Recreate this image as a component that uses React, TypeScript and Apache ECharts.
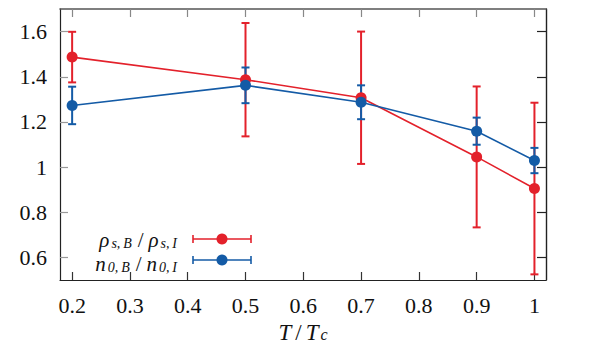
import React, { useEffect, useRef } from "react";
import * as echarts from "echarts";

const temps = [0.2, 0.5, 0.7, 0.9, 1.0];
const rhoVals = [1.487, 1.387, 1.307, 1.045, 0.905];
const rhoErr = [0.112, 0.251, 0.293, 0.312, 0.38];
const n0Vals = [1.273, 1.362, 1.287, 1.159, 1.029];
const n0Err = [0.083, 0.079, 0.075, 0.06, 0.056];
const xTicks = [0.2, 0.3, 0.4, 0.5, 0.6, 0.7, 0.8, 0.9, 1];
const yTicks = [0.6, 0.8, 1, 1.2, 1.4, 1.6];

const RED = "#e3212b";
const BLUE = "#145ba6";
const FONT = "Liberation Serif";

function errorSeries(vals: number[], errs: number[], color: string) {
  const data = temps.map((t, i) => [t, vals[i] - errs[i], vals[i] + errs[i]]);
  return {
    type: "custom",
    data,
    z: 2,
    renderItem: (params: any, api: any) => {
      const lo = api.coord([api.value(0), api.value(1)]);
      const hi = api.coord([api.value(0), api.value(2)]);
      const w = 4;
      const style = { stroke: color, lineWidth: 2 };
      return {
        type: "group",
        children: [
          { type: "line", shape: { x1: lo[0], y1: lo[1], x2: hi[0], y2: hi[1] }, style },
          { type: "line", shape: { x1: lo[0] - w, y1: lo[1], x2: lo[0] + w, y2: lo[1] }, style },
          { type: "line", shape: { x1: hi[0] - w, y1: hi[1], x2: hi[0] + w, y2: hi[1] }, style },
        ],
      };
    },
  };
}

function lineSeries(vals: number[], color: string) {
  return {
    type: "line",
    data: temps.map((t, i) => [t, vals[i]]),
    symbol: "circle",
    symbolSize: 11,
    z: 2,
    itemStyle: { color },
    lineStyle: { color, width: 1.6 },
  };
}

const richTitle = {
  i: { fontFamily: FONT, fontStyle: "italic", fontSize: 23, color: "#111", lineHeight: 20 },
  s: { fontFamily: FONT, fontSize: 23, color: "#111", lineHeight: 20, padding: [0, 4, 0, 4] },
  sub: {
    fontFamily: FONT,
    fontStyle: "italic",
    fontSize: 16,
    color: "#111",
    lineHeight: 8,
    verticalAlign: "bottom",
    padding: [0, 0, 0, 2],
  },
};

const richLegend = {
  i: { fontFamily: FONT, fontStyle: "italic", fontSize: 21, color: "#111", lineHeight: 20 },
  s: { fontFamily: FONT, fontSize: 21, color: "#111", lineHeight: 20, padding: [0, 5, 0, 5] },
  sub: {
    fontFamily: FONT,
    fontStyle: "italic",
    fontSize: 14,
    color: "#111",
    lineHeight: 13,
    verticalAlign: "bottom",
    padding: [0, 1, 0, 2],
  },
};

function legendItem(label: string, y: number, textY: number, color: string) {
  return [
    {
      type: "text",
      x: 178,
      y: textY,
      style: { text: label, rich: richLegend, align: "right", verticalAlign: "middle", fill: "#111" },
    },
    { type: "line", shape: { x1: 193, y1: y, x2: 251, y2: y }, style: { stroke: color, lineWidth: 1.6 } },
    { type: "line", shape: { x1: 193, y1: y - 4, x2: 193, y2: y + 4 }, style: { stroke: color, lineWidth: 1.6 } },
    { type: "line", shape: { x1: 251, y1: y - 4, x2: 251, y2: y + 4 }, style: { stroke: color, lineWidth: 1.6 } },
    { type: "circle", shape: { cx: 222, cy: y, r: 5.5 }, style: { fill: color } },
  ];
}

export default function App() {
  const ref = useRef<HTMLDivElement>(null);
  useEffect(() => {
    const chart = echarts.init(ref.current!, null, { renderer: "svg" });
    const axisCommon = {
      type: "value",
      splitLine: { show: false },
    };
    chart.setOption({
      animation: false,
      backgroundColor: "#fff",
      grid: { left: 60, right: 46, top: 9, bottom: 69 },
      xAxis: [
        {
          ...axisCommon,
          min: 0.179,
          max: 1.02,
          position: "bottom",
          axisLine: { onZero: false, lineStyle: { color: "#222", width: 1.2 } },
          axisTick: { inside: true, length: 8, customValues: xTicks, lineStyle: { color: "#333", width: 1.2 } },
          axisLabel: {
            customValues: xTicks,
            margin: 14,
            fontFamily: FONT,
            fontSize: 22,
            color: "#111",
            formatter: (v: number) => String(Math.round(v * 10) / 10),
          },
          name: "{i|T}{s|/}{i|T}{sub|c}",
          nameLocation: "middle",
          nameGap: 41,
          nameTextStyle: { rich: richTitle },
        },
        {
          ...axisCommon,
          min: 0.179,
          max: 1.02,
          position: "top",
          axisLine: { onZero: false, lineStyle: { color: "#555", width: 1.6 } },
          axisTick: { inside: true, length: 8, customValues: xTicks, lineStyle: { color: "#888", width: 1.2 } },
          axisLabel: { show: false },
        },
      ],
      yAxis: [
        {
          ...axisCommon,
          min: 0.5,
          max: 1.7,
          position: "left",
          axisLine: { show: true, onZero: false, lineStyle: { color: "#222", width: 1.2 } },
          axisTick: { show: true, inside: true, length: 8, customValues: yTicks, lineStyle: { color: "#999", width: 1.2 } },
          axisLabel: {
            customValues: yTicks,
            margin: 13,
            fontFamily: FONT,
            fontSize: 22,
            color: "#111",
            formatter: (v: number) => String(Math.round(v * 10) / 10),
          },
        },
        {
          ...axisCommon,
          min: 0.5,
          max: 1.7,
          position: "right",
          axisLine: { show: true, onZero: false, lineStyle: { color: "#222", width: 1.4 } },
          axisTick: { show: true, inside: true, length: 9, customValues: yTicks, lineStyle: { color: "#222", width: 1.2 } },
          axisLabel: { show: false },
        },
      ],
      series: [
        errorSeries(rhoVals, rhoErr, RED),
        lineSeries(rhoVals, RED),
        errorSeries(n0Vals, n0Err, BLUE),
        lineSeries(n0Vals, BLUE),
      ],
      graphic: [
        ...legendItem("{i|ρ}{sub|s,\u2009B}{s|/}{i|ρ}{sub|s,\u2009I}", 239, 240, RED),
        ...legendItem("{i|n}{sub|0,\u2009B}{s|/}{i|n}{sub|0,\u2009I}", 260, 264, BLUE),
      ],
    });
    return () => chart.dispose();
  }, []);
  return (
    <div
      ref={ref}
      style={{ position: "absolute", left: 0, top: 0, width: 592, height: 349 }}
    />
  );
}
